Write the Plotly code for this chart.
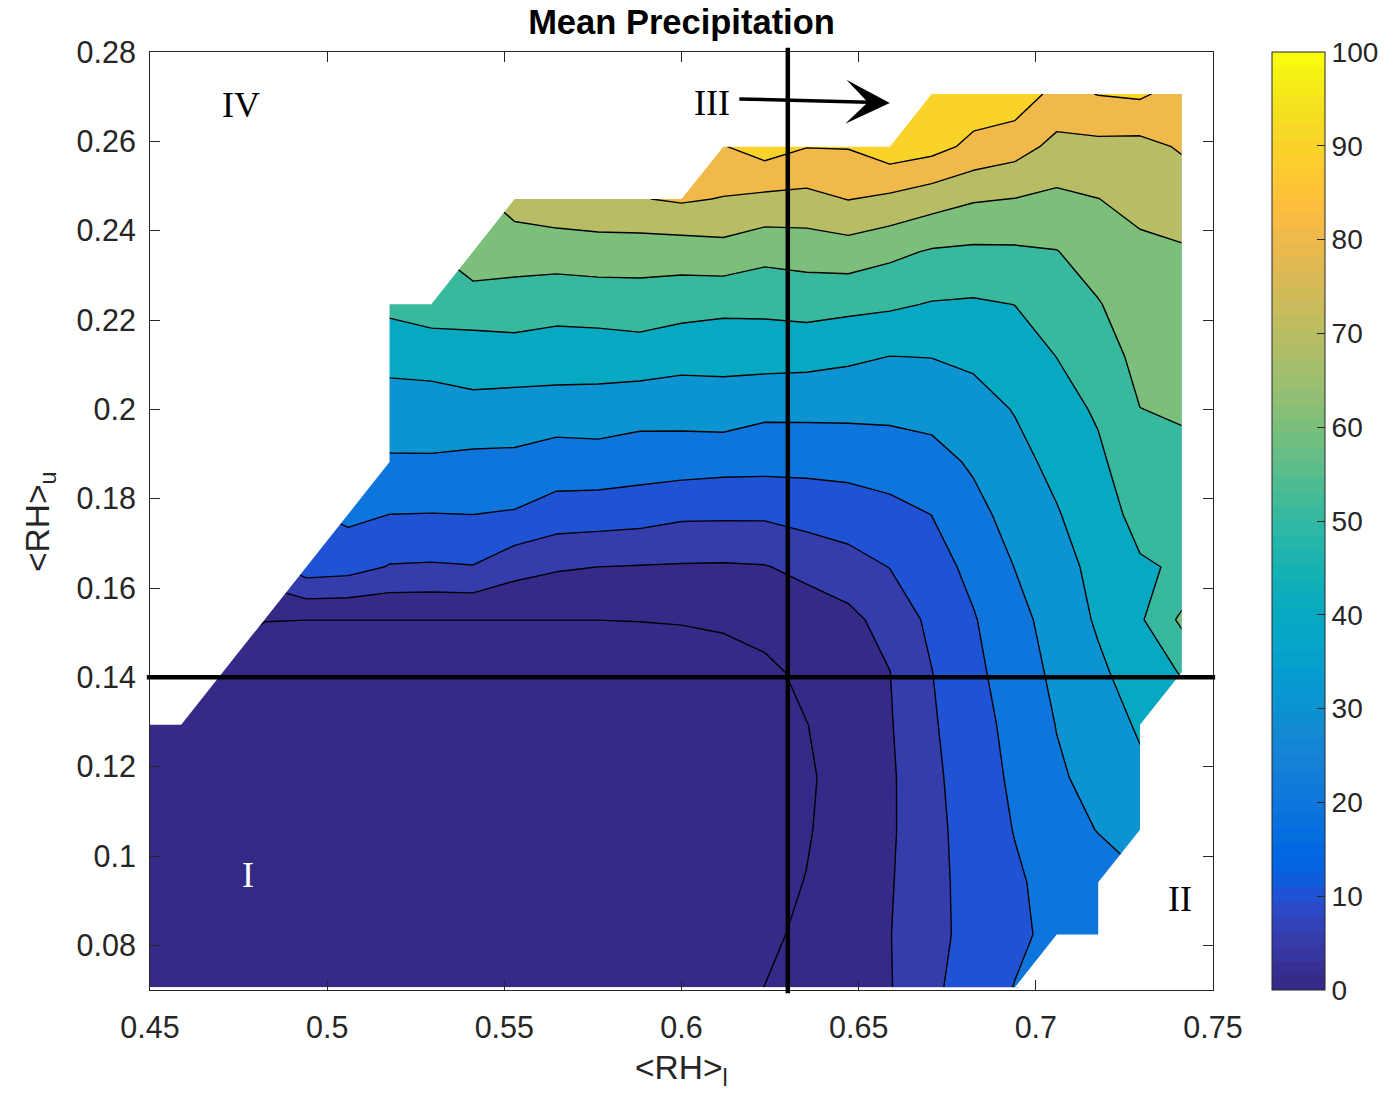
import numpy as np
import plotly.graph_objects as go

# ---------------- data ----------------
RH_L = [0.4471, 0.4588, 0.4706, 0.4824, 0.4941, 0.5059, 0.5176, 0.5294, 0.5412, 0.5529,
        0.5647, 0.5765, 0.5882, 0.6000, 0.6118, 0.6235, 0.6353, 0.6471, 0.6588, 0.6706,
        0.6824, 0.6941, 0.7059, 0.7176, 0.7294, 0.7412]
RH_U = [0.0706, 0.0824, 0.0941, 0.1059, 0.1176, 0.1294, 0.1412, 0.1529, 0.1647, 0.1765,
        0.1882, 0.2000, 0.2118, 0.2235, 0.2353, 0.2471, 0.2588, 0.2706]

N = None
PRECIP = [
    [0.5]*13 + [0.6, 0.75, 1.03, 2.3, 3.55, 4.78, 9.06, 14.6, 20.3, N, N, N, N],
    [0.5]*13 + [0.6, 0.75, 0.85, 1.6, 3.44, 4.88, 8.6, 13.15, 18.1, 22.5, 24.0, N, N],
    [0.5]*13 + [0.6, 0.7, 0.75, 1.1, 2.98, 4.67, 8.6, 13.5, 18.6, 23.5, 24.9, N, N],
    [0.5]*13 + [0.6, 0.7, 0.8, 0.93, 2.59, 4.44, 8.6, 14.4, 20.4, 25.5, 30.4, 34.0, N],
    [0.5]*13 + [0.6, 0.7, 0.75, 0.88, 2.44, 4.41, 8.93, 15.2, 21.75, 28.7, 33.0, 38.3, N],
    [0.5]*13 + [0.6, 0.7, 0.7, 0.98, 2.81, 4.69, 9.43, 16.1, 23.1, 30.3, 36.0, 41.0, N],
    [N, N] + [0.7]*13 + [0.75, 2.07, 3.54, 4.95, 9.9, 17.6, 25.1, 32.1, 38.3, 44.5, 50.7],
    [N, N, N, 1.05] + [1.01]*8 + [1.05, 1.14, 1.42, 2.7, 3.0, 3.9, 7.04, 12.1, 19.3, 26.8,
                                  34.1, 41.2, 48.7, 62.0],
    [N, N, N, N, 15.2, 13.9, 9.7, 9.5, 9.8, 6.8, 5.5, 4.98, 4.8, 4.67, 4.6, 4.8, 6.2, 8.1,
     10.2, 16.1, 22.5, 30.2, 36.8, 42.5, 49.0, 51.0],
    [N]*5 + [22.0, 19.98, 19.8, 20.05, 19.2, 15.4, 14.8, 13.9, 11.7, 11.5, 11.5, 13.8, 15.0,
             17.1, 20.1, 27.1, 33.6, 39.3, 45.8, 52.9, 55.0],
    [N]*6 + [28.75, 28.8, 27.8, 27.6, 25.8, 26.0, 24.8, 24.4, 23.5, 23.2, 22.8, 23.3, 24.6,
             26.6, 31.3, 37.0, 42.6, 48.2, 56.4, 58.0],
    [N]*6 + [36.0, 36.1, 36.7, 36.3, 34.7, 35.2, 33.7, 33.9, 35.0, 32.2, 32.4, 32.4, 32.4,
             33.2, 36.3, 40.5, 46.3, 51.2, 59.9, 60.9],
    [N]*6 + [42.7, 43.4, 45.6, 45.2, 46.2, 45.2, 45.4, 43.3, 43.1, 43.8, 43.2, 41.7, 39.9,
             40.2, 41.8, 45.3, 50.1, 55.3, 62.7, 63.7],
    [N]*6 + [52.6, 55.5, 54.3, 55.7, 52.7, 54.0, 55.2, 53.8, 52.5, 52.4, 53.6, 52.5, 51.5,
             49.4, 48.8, 50.1, 54.8, 59.4, 65.5, 66.4],
    [N]*8 + [67.2, 64.0, 65.3, 65.6, 64.8, 64.9, 66.5, 63.1, 64.1, 65.4, 62.3, 59.1, 58.3,
             58.6, 59.7, 64.6, 68.3, 69.1],
    [N]*9 + [74.5, 75.8, 77.4, 79.5, 81.3, 79.5, 77.8, 77.3, 80.3, 78.0, 74.4, 70.9, 69.8,
             68.0, 69.9, 72.3, 74.5],
    [N]*14 + [89.5, 94.5, 90.3, 90.5, 96.0, 93.5, 87.5, 84.1, 77.2, 77.5, 77.0, 81.0],
    [N]*19 + [91.5, 96.0, 96.0, 87.0, 90.3, 91.5, 86.0],
]

LEVELS = [1, 5, 10, 20, 30, 40, 50, 60, 70, 80, 90]
CMIN, CMAX = 0, 100
CROSS_RH_L = 0.63
CROSS_RH_U = 0.14

X_TICKS = [0.45, 0.5, 0.55, 0.6, 0.65, 0.7, 0.75]
X_TICK_LABELS = ["0.45", "0.5", "0.55", "0.6", "0.65", "0.7", "0.75"]
Y_TICKS = [0.08, 0.10, 0.12, 0.14, 0.16, 0.18, 0.20, 0.22, 0.24, 0.26, 0.28]
Y_TICK_LABELS = ["0.08", "0.1", "0.12", "0.14", "0.16", "0.18", "0.2", "0.22", "0.24",
                 "0.26", "0.28"]
CB_TICKS = [0, 10, 20, 30, 40, 50, 60, 70, 80, 90, 100]
CB_TICK_LABELS = [str(v) for v in CB_TICKS]

# ---------------- style ----------------
PARULA = [
    (0.2081, 0.1663, 0.5292), (0.2116, 0.1898, 0.5777), (0.2123, 0.2138, 0.6270),
    (0.2081, 0.2386, 0.6771), (0.1959, 0.2645, 0.7279), (0.1707, 0.2919, 0.7792),
    (0.1253, 0.3242, 0.8303), (0.0591, 0.3598, 0.8683), (0.0117, 0.3875, 0.8820),
    (0.0060, 0.4086, 0.8828), (0.0165, 0.4266, 0.8786), (0.0329, 0.4430, 0.8720),
    (0.0498, 0.4586, 0.8641), (0.0629, 0.4737, 0.8554), (0.0723, 0.4887, 0.8467),
    (0.0779, 0.5040, 0.8384), (0.0793, 0.5200, 0.8312), (0.0749, 0.5375, 0.8263),
    (0.0641, 0.5570, 0.8240), (0.0488, 0.5772, 0.8228), (0.0343, 0.5966, 0.8199),
    (0.0265, 0.6137, 0.8135), (0.0239, 0.6287, 0.8038), (0.0231, 0.6418, 0.7913),
    (0.0228, 0.6535, 0.7768), (0.0267, 0.6642, 0.7607), (0.0384, 0.6743, 0.7436),
    (0.0590, 0.6838, 0.7254), (0.0843, 0.6928, 0.7062), (0.1133, 0.7015, 0.6859),
    (0.1453, 0.7098, 0.6646), (0.1801, 0.7177, 0.6424), (0.2178, 0.7250, 0.6193),
    (0.2586, 0.7317, 0.5954), (0.3022, 0.7376, 0.5712), (0.3482, 0.7424, 0.5473),
    (0.3953, 0.7459, 0.5244), (0.4420, 0.7481, 0.5033), (0.4871, 0.7491, 0.4840),
    (0.5300, 0.7491, 0.4661), (0.5711, 0.7485, 0.4494), (0.6099, 0.7473, 0.4337),
    (0.6473, 0.7456, 0.4188), (0.6834, 0.7435, 0.4044), (0.7184, 0.7411, 0.3905),
    (0.7525, 0.7384, 0.3768), (0.7858, 0.7356, 0.3633), (0.8185, 0.7327, 0.3498),
    (0.8507, 0.7299, 0.3360), (0.8824, 0.7274, 0.3217), (0.9139, 0.7258, 0.3063),
    (0.9450, 0.7261, 0.2886), (0.9739, 0.7314, 0.2666), (0.9938, 0.7455, 0.2403),
    (0.9990, 0.7653, 0.2164), (0.9955, 0.7861, 0.1967), (0.9880, 0.8066, 0.1794),
    (0.9789, 0.8271, 0.1633), (0.9697, 0.8481, 0.1475), (0.9626, 0.8705, 0.1309),
    (0.9589, 0.8949, 0.1132), (0.9598, 0.9218, 0.0948), (0.9661, 0.9514, 0.0755),
    (0.9763, 0.9831, 0.0538),
]
PARULA_HEX = ['#%02x%02x%02x' % tuple(int(round(c * 255)) for c in rgb) for rgb in PARULA]
FONT = "Liberation Sans, Arial, Helvetica, sans-serif"
SERIF = "Liberation Serif, Times New Roman, serif"
AX_COL = "#262626"

# ---------------- derived ----------------
Z = np.array([[np.nan if v is None else v for v in row] for row in PRECIP], float)
edges = [CMIN] + LEVELS + [CMAX]
Zi = np.full_like(Z, np.nan)
valid = ~np.isnan(Z)
Zi[valid] = np.interp(Z[valid], edges, np.arange(len(edges)))
z_idx = [[None if np.isnan(v) else float(v) for v in row] for row in Zi]

nc = len(LEVELS)


def par_idx(v):
    return min(63, int(np.floor((v - CMIN) / (CMAX - CMIN) * 64)))


band_cols = [PARULA_HEX[par_idx(v)] for v in [CMIN] + LEVELS]
band_scale = [[k / nc, c] for k, c in enumerate(band_cols)]

cb_scale = []
for k, c in enumerate(PARULA_HEX):
    cb_scale.append([k / 64, c])
    cb_scale.append([(k + 1) / 64, c])

# boundary of the valid (non-NaN) region, marching-squares style
first = [int(np.where(valid[j])[0].min()) for j in range(len(RH_U))]
last = [int(np.where(valid[j])[0].max()) for j in range(len(RH_U))]
X, Y = RH_L, RH_U


def left_path():
    pts = [(X[first[0]], Y[0])]
    for j in range(len(Y) - 1):
        a, b = first[j], first[j + 1]
        if b > a + 1:
            pts.append((X[b - 1], Y[j]))
            pts.append((X[b], Y[j + 1]))
        elif b < a - 1:
            pts.append((X[a - 1], Y[j + 1]))
            pts.append((X[b], Y[j + 1]))
        else:
            pts.append((X[b], Y[j + 1]))
    return pts


def right_path():
    pts = [(X[last[0]], Y[0])]
    for j in range(len(Y) - 1):
        a, b = last[j], last[j + 1]
        if b > a + 1:
            pts.append((X[a + 1], Y[j + 1]))
            pts.append((X[b], Y[j + 1]))
        elif b < a - 1:
            pts.append((X[b + 1], Y[j]))
            pts.append((X[b], Y[j + 1]))
        else:
            pts.append((X[b], Y[j + 1]))
    return pts


XL, XR = 0.43, 0.77
lp = [(XL, Y[0])] + left_path() + [(XL, Y[-1]), (XL, Y[0])]
rp = [(XR, Y[0])] + right_path() + [(XR, Y[-1]), (XR, Y[0])]
mask_x = [p[0] for p in lp] + [None] + [p[0] for p in rp]
mask_y = [p[1] for p in lp] + [None] + [p[1] for p in rp]

# ---------------- figure ----------------
fig = go.Figure()

fig.add_trace(go.Contour(
    x=RH_L, y=RH_U, z=z_idx,
    autocontour=False,
    contours=dict(start=1, end=nc, size=1, coloring='fill', showlines=True),
    colorscale=band_scale, showscale=False,
    line=dict(color='black', width=1.4, smoothing=0),
    hoverinfo='skip',
))

fig.add_trace(go.Scatter(
    x=mask_x, y=mask_y, mode='lines', fill='toself', fillcolor='white',
    line=dict(width=0, color='white'), hoverinfo='skip', showlegend=False,
))

# colour bar (stepped 64-colour parula, 0..100)
fig.add_trace(go.Scatter(
    x=[0.5], y=[0.1], mode='markers', hoverinfo='skip', showlegend=False,
    marker=dict(size=1, opacity=0, color=[CMIN], cmin=CMIN, cmax=CMAX,
                colorscale=cb_scale, showscale=True,
                colorbar=dict(
                    x=1.0555, xanchor='left', xpad=0, y=0.5, yanchor='middle',
                    len=1, lenmode='fraction', ypad=0,
                    thickness=53, thicknessmode='pixels',
                    outlinewidth=1, outlinecolor=AX_COL,
                    tickmode='array', tickvals=CB_TICKS, ticktext=CB_TICK_LABELS,
                    tickprefix='\u00a0',
                    ticks='inside', ticklen=8, tickwidth=1, tickcolor=AX_COL,
                    tickfont=dict(family=FONT, size=28, color=AX_COL),
                )),
))

axis_common = dict(
    showgrid=False, zeroline=False, showline=True, linecolor=AX_COL, linewidth=1,
    mirror='ticks', ticks='inside', ticklen=10, tickwidth=1, tickcolor=AX_COL,
    tickfont=dict(family=FONT, size=30.5, color=AX_COL),
)
fig.update_xaxes(range=[0.45, 0.75], tickmode='array', tickvals=X_TICKS,
                 ticktext=X_TICK_LABELS, ticklabelstandoff=10, **axis_common)
fig.update_yaxes(range=[0.07, 0.28], tickmode='array', tickvals=Y_TICKS,
                 ticktext=Y_TICK_LABELS, ticklabelstandoff=7, **axis_common)

# cross-hair dividing lines (data positions -> paper fractions)
xp = (CROSS_RH_L - 0.45) / (0.75 - 0.45)
yp = (CROSS_RH_U - 0.07) / (0.28 - 0.07)
fig.add_shape(type='line', xref='paper', yref='paper', x0=xp, x1=xp, y0=-0.0035, y1=1.0045,
              line=dict(color='black', width=4.5))
fig.add_shape(type='line', xref='paper', yref='paper', x0=-0.003, x1=1.002, y0=yp, y1=yp,
              line=dict(color='black', width=4.5))

ann = [
    dict(x=0.4757, y=0.2681, text='IV', color='black'),
    dict(x=0.6086, y=0.2686, text='III', color='black'),
    dict(x=0.4777, y=0.0957, text='I', color='white'),
    dict(x=0.7407, y=0.0904, text='II', color='black'),
]
for a in ann:
    fig.add_annotation(x=a['x'], y=a['y'], xref='x', yref='y', text=a['text'],
                       showarrow=False, font=dict(family=SERIF, size=36, color=a['color']))

fig.add_annotation(x=0.6588, y=0.2686, ax=0.6159, ay=0.2695, xref='x', yref='y',
                   axref='x', ayref='y', text='', showarrow=True, arrowhead=3,
                   arrowsize=2.1, arrowwidth=3.5, arrowcolor='black', standoff=0)

fig.add_annotation(x=0.5, y=-0.0853, xref='paper', yref='paper', showarrow=False,
                   text='&lt;RH&gt;<sub>l</sub>', yanchor='middle',
                   font=dict(family=FONT, size=33.5, color=AX_COL))
fig.add_annotation(x=-0.1035, y=0.5, xref='paper', yref='paper', showarrow=False,
                   text='&lt;RH&gt;<sub>u</sub>', textangle=-90, xanchor='center',
                   font=dict(family=FONT, size=33.5, color=AX_COL))

fig.update_layout(
    width=1398, height=1093,
    margin=dict(l=150, r=185, t=52, b=103, autoexpand=False),
    paper_bgcolor='white', plot_bgcolor='white',
    showlegend=False,
    title=dict(text='<b>Mean Precipitation</b>', x=0.5, xref='paper', xanchor='center',
               y=1 - 22 / 1093, yanchor='middle',
               font=dict(family=FONT, size=34.5, color='black')),
)

fig.write_html("out.html")
